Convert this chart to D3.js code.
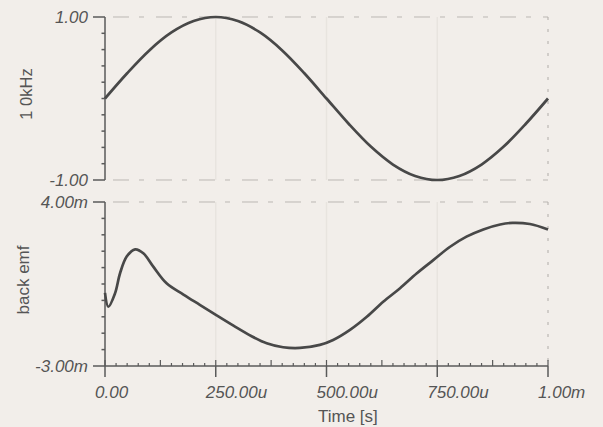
<!DOCTYPE html>
<html><head><meta charset="utf-8">
<script src="https://cdn.jsdelivr.net/npm/d3@7"></script>
<style>
html,body{margin:0;padding:0;background:#f2eeea;}
svg{display:block;}
text{font-family:"Liberation Sans",Arial,sans-serif;fill:#555;}
</style></head><body>
<svg id="c" width="603" height="427"></svg>
<script>
// ---- data ----
const sineTimeUs = [0,50,100,150,200,250,300,350,400,450,500,550,600,650,700,750,800,850,900,950,1000];
const sineValues = [0,0.31,0.59,0.81,0.95,1.0,0.95,0.81,0.59,0.31,0,-0.31,-0.59,-0.81,-0.95,-1.0,-0.95,-0.81,-0.59,-0.31,0];
const emfTimeUs = [0,7.5,22.6,34,49,68,86.5,109,139,177,214,252,290,330,365,402,440,485,515,553,591,628,666,704,741,779,816,854,892,920,959,1000];
const emfValuesMv = [0.12,-0.47,0.10,0.96,1.67,1.98,1.81,1.24,0.53,0.05,-0.39,-0.84,-1.28,-1.72,-2.03,-2.2,-2.23,-2.10,-1.89,-1.46,-0.90,-0.26,0.32,0.96,1.52,2.09,2.52,2.83,3.04,3.11,3.06,2.83];
const xTickValues = [0,250,500,750,1000];
const xTickLabels = ["0.00","250.00u","500.00u","750.00u","1.00m"];
const topTickLabels = ["1.00","-1.00"];
const botTickLabels = ["4.00m","-3.00m"];
const topTitle = "1 0kHz", botTitle = "back emf", xTitle = "Time [s]";

const svg = d3.select("#c");
const axisCol = "#5a5a5a", lineCol = "#484848";
const x = d3.scaleLinear().domain([0,1000]).range([105,548]);
const yTop = d3.scaleLinear().domain([-1,1]).range([180,17]);
const yBot = d3.scaleLinear().domain([-3,4]).range([366,202]);

// faint grid / frame
const g0 = svg.append("g");
[250,500,750].forEach(t=>{
  [[17,180],[202,366]].forEach(r=>{
    g0.append("line").attr("x1",x(t)).attr("x2",x(t)).attr("y1",r[0]).attr("y2",r[1])
      .attr("stroke","#e8e4df").attr("stroke-width",1.5);
  });
});
[yTop(1),yTop(-1),yBot(4)].forEach(yy=>{
  g0.append("line").attr("x1",x(0)+8).attr("x2",x(1000)).attr("y1",yy).attr("y2",yy)
    .attr("stroke","#bbb7b3").attr("stroke-width",1).attr("stroke-dasharray","16,10,5,12");
});
[[17,180],[202,366]].forEach(r=>{
  g0.append("line").attr("x1",x(1000)).attr("x2",x(1000)).attr("y1",r[0]).attr("y2",r[1])
    .attr("stroke","#b0aca8").attr("stroke-width",1).attr("stroke-dasharray","3,9");
});

// y axes
function yAxis(scale, domain, labels){
  const g = svg.append("g");
  const [lo,hi] = domain;
  g.append("line").attr("x1",105).attr("x2",105).attr("y1",scale(hi)).attr("y2",scale(lo))
    .attr("stroke",axisCol).attr("stroke-width",1.5);
  const step = (hi-lo)/10;
  d3.range(11).forEach(i=>{
    const v = lo + i*step;
    const major = (i===0||i===10);
    g.append("line").attr("x1",major?93:101.5).attr("x2",105).attr("y1",scale(v)).attr("y2",scale(v))
      .attr("stroke",axisCol).attr("stroke-width",1.5);
  });
  g.append("text").attr("x",88).attr("y",scale(hi)+6).attr("text-anchor","end")
    .attr("font-size",17).attr("font-style","italic").text(labels[0]);
  g.append("text").attr("x",88).attr("y",scale(lo)+6).attr("text-anchor","end")
    .attr("font-size",17).attr("font-style","italic").text(labels[1]);
}
yAxis(yTop,[-1,1],topTickLabels);
yAxis(yBot,[-3,4],botTickLabels);

// axis titles
svg.append("text").attr("transform","translate(32,94) rotate(-90)").attr("text-anchor","middle")
  .attr("font-size",16.5).attr("fill","#666").text(topTitle);
svg.append("text").attr("transform","translate(29,280) rotate(-90)").attr("text-anchor","middle")
  .attr("font-size",17).attr("fill","#666").text(botTitle);

// x axis
const gx = svg.append("g");
gx.append("line").attr("x1",x(0)).attr("x2",x(1000)).attr("y1",366).attr("y2",366)
  .attr("stroke",axisCol).attr("stroke-width",1.5);
d3.range(0,1001,25).forEach(t=>{
  const up = (t%125===0)?6:3;
  gx.append("line").attr("x1",x(t)).attr("x2",x(t)).attr("y1",366-up).attr("y2",366)
    .attr("stroke",axisCol).attr("stroke-width",1.2);
});
xTickValues.forEach((t,i)=>{
  gx.append("line").attr("x1",x(t)).attr("x2",x(t)).attr("y1",366).attr("y2",377)
    .attr("stroke",axisCol).attr("stroke-width",1.5);
  gx.append("text").attr("x",x(t)-10).attr("y",398).attr("font-size",17)
    .attr("font-style","italic").text(xTickLabels[i]);
});
svg.append("text").attr("x",318).attr("y",422).attr("font-size",17).attr("fill","#555").text(xTitle);

// curves
const topLine = d3.line().x((d,i)=>x(sineTimeUs[i])).y(d=>yTop(d)).curve(d3.curveCatmullRom);
svg.append("path").attr("d",topLine(sineValues)).attr("fill","none")
  .attr("stroke",lineCol).attr("stroke-width",2.7);
const botLine = d3.line().x((d,i)=>x(emfTimeUs[i])).y(d=>yBot(d)).curve(d3.curveCatmullRom);
svg.append("path").attr("d",botLine(emfValuesMv)).attr("fill","none")
  .attr("stroke",lineCol).attr("stroke-width",2.7);
</script></body></html>
